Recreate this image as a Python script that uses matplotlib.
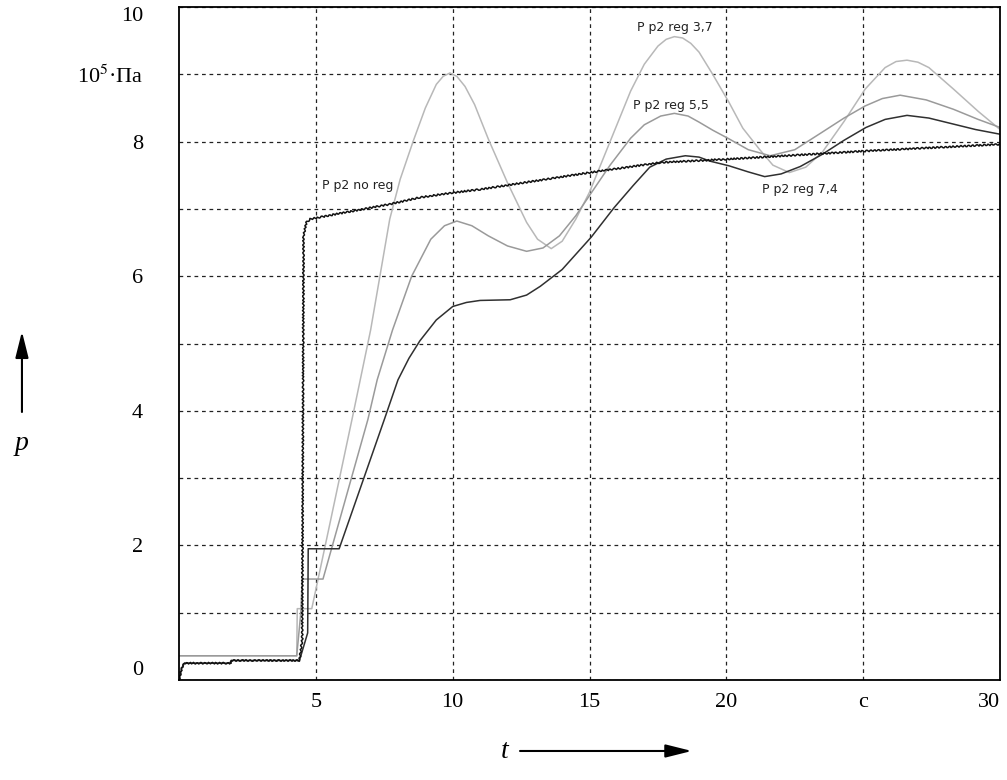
import matplotlib
matplotlib.use('Agg')
import matplotlib.pyplot as plt

plt.rcParams['mathtext.fontset'] = 'stix'

# P p2 no reg
t_noreg = [0, 0.1, 0.2, 1.9, 1.9, 4.4, 4.5, 4.55, 4.65, 4.8, 6.1, 7.7, 8.8, 10, 11, 15, 17.6, 20.1, 25.07, 30]
p_noreg = [0, 0.18, 0.25, 0.25, 0.29, 0.29, 0.6, 6.6, 6.8, 6.85, 6.95, 7.07, 7.17, 7.24, 7.29, 7.54, 7.69, 7.74, 7.86, 7.96]

# P p2 reg 7,4
t_74 = [0, 0.1, 0.2, 1.9, 1.9, 4.4, 4.7, 4.72, 5.85, 7.5, 8.0, 8.4, 8.8, 9.4, 10.0, 10.5, 11.0, 12.1, 12.7, 13.2,
        14.0, 15.06, 15.9, 16.6, 17.2, 17.8, 18.5, 19.0, 19.4, 20.1, 20.8, 21.4, 22.0, 22.7, 23.5, 24.3,
        25.1, 25.8, 26.6, 27.4, 28.3, 29.1, 30]
p_74 = [0, 0.18, 0.25, 0.25, 0.29, 0.29, 0.7, 1.95, 1.95, 3.87, 4.46, 4.78, 5.04, 5.35, 5.55, 5.61, 5.64, 5.65, 5.72, 5.85,
        6.1, 6.58, 7.02, 7.35, 7.62, 7.74, 7.79, 7.77, 7.71, 7.64, 7.55, 7.48, 7.52, 7.63, 7.81, 8.02,
        8.21, 8.33, 8.39, 8.35, 8.26, 8.18, 8.11]

# P p2 reg 3,7
t_37 = [0, 4.3, 4.32, 4.85, 5.5, 6.36, 7.0, 7.7, 8.08, 8.55, 9.0, 9.4, 9.65, 9.9, 10.15, 10.45, 10.8, 11.3, 12.0,
        12.7, 13.1, 13.6, 14.0, 14.5, 15.0, 15.5, 16.0, 16.5, 17.0, 17.5, 17.8, 18.1, 18.4, 18.7, 19.0, 19.5,
        20.1, 20.6, 21.2, 21.7, 22.3, 22.9, 23.5, 24.3, 25.07, 25.8, 26.2, 26.6, 27.0, 27.4, 28.3, 29.2, 30]
p_37 = [0.36, 0.36, 1.06, 1.06, 2.3, 3.95, 5.2, 6.85, 7.44, 8.0, 8.5, 8.85, 8.97, 9.02, 8.97, 8.82, 8.55, 8.04, 7.39,
        6.8, 6.55, 6.41, 6.52, 6.85, 7.25, 7.75, 8.25, 8.75, 9.15, 9.42, 9.52, 9.56, 9.54, 9.46, 9.33, 9.0,
        8.58, 8.2, 7.89, 7.65, 7.54, 7.62, 7.84, 8.3, 8.78, 9.1, 9.19, 9.21, 9.18, 9.1, 8.78, 8.45, 8.18]

# P p2 reg 5,5
t_55 = [0, 4.3, 4.45, 4.5, 5.26, 6.9, 7.24, 7.8, 8.5, 9.2, 9.7, 10.15, 10.7, 11.3, 12.0, 12.7, 13.3, 13.9,
        14.5, 15.0, 15.75, 16.5, 17.0, 17.6, 18.1, 18.6, 19.0, 19.5, 20.1, 20.8, 21.6, 22.5, 23.5, 24.3,
        25.07, 25.7, 26.35, 27.3, 28.3, 29.2, 30]
p_55 = [0.36, 0.36, 1.0, 1.5, 1.5, 3.87, 4.46, 5.2, 6.0, 6.55, 6.75, 6.82, 6.75, 6.6, 6.45, 6.37, 6.42, 6.6,
        6.9, 7.2, 7.65, 8.05, 8.25, 8.38, 8.42, 8.38, 8.29, 8.17, 8.04, 7.88, 7.79, 7.88, 8.14, 8.35,
        8.53, 8.64, 8.69, 8.62, 8.48, 8.33, 8.21]

x_ticks = [5, 10, 15, 20, 25, 30]
x_labels = ['5', '10', '15', '20', 'c', '30']
y_ticks = list(range(11))
y_labels = ['0', '', '2', '', '4', '', '6', '', '8', '10$^5$·Па', '10']

fig = plt.figure(figsize=(10.07, 7.8), dpi=100)
ax = fig.add_axes([0.1778, 0.1282, 0.8153, 0.8628])

ax.plot(t_37, p_37, color='#b8b8b8', lw=1.1)
ax.plot(t_55, p_55, color='#9a9a9a', lw=1.1)
ax.plot(t_74, p_74, color='#303030', lw=1.1)
ln, = ax.plot(t_noreg, p_noreg, color='#111111', lw=1.1)
ln.set_sketch_params(scale=0.8, length=4, randomness=1.5)

ax.set_xlim(0, 30)
ax.set_ylim(0, 10)
ax.set_xticks(x_ticks)
ax.set_xticklabels(x_labels)
ax.set_yticks(y_ticks)
ax.set_yticklabels(y_labels)
ax.tick_params(length=0, labelsize=16)
ax.tick_params(axis='x', pad=9)
ax.tick_params(axis='y', pad=26)
for lab in ax.get_xticklabels() + ax.get_yticklabels():
    lab.set_family('Liberation Serif')
ax.get_xticklabels()[-1].set_horizontalalignment('right')
ax.get_yticklabels()[0].set_verticalalignment('bottom')
ax.get_yticklabels()[-1].set_verticalalignment('top')

ax.grid(True, color='#222222', lw=0.9, linestyle=(0, (3, 3)))
for s in ax.spines.values():
    s.set_linewidth(1.3)

lab_kw = dict(fontsize=9, family='DejaVu Sans', color='#222222', va='center', ha='left')
ax.text(5.23, 7.35, 'P p2 no reg', **lab_kw)
ax.text(16.74, 9.7, 'P p2 reg 3,7', **lab_kw)
ax.text(16.6, 8.54, 'P p2 reg 5,5', **lab_kw)
ax.text(21.3, 7.29, 'P p2 reg 7,4', **lab_kw)

# axis arrows
arr = dict(arrowstyle='-|>,head_length=1.6,head_width=0.4', lw=1.5, color='black', shrinkA=0, shrinkB=0)
fig.text(0.0218, 0.432, 'p', fontsize=20, family='Liberation Serif', style='italic', ha='center', va='center')
fig.add_artist(matplotlib.patches.FancyArrowPatch((0.0218, 0.4718), (0.0218, 0.575),
                                                  transform=fig.transFigure, mutation_scale=10, **arr))
fig.text(0.5015, 0.0359, 't', fontsize=20, family='Liberation Serif', style='italic', ha='center', va='center')
fig.add_artist(matplotlib.patches.FancyArrowPatch((0.5164, 0.0372), (0.687, 0.0372),
                                                  transform=fig.transFigure, mutation_scale=10, **arr))

fig.savefig('out.png', dpi=100)
